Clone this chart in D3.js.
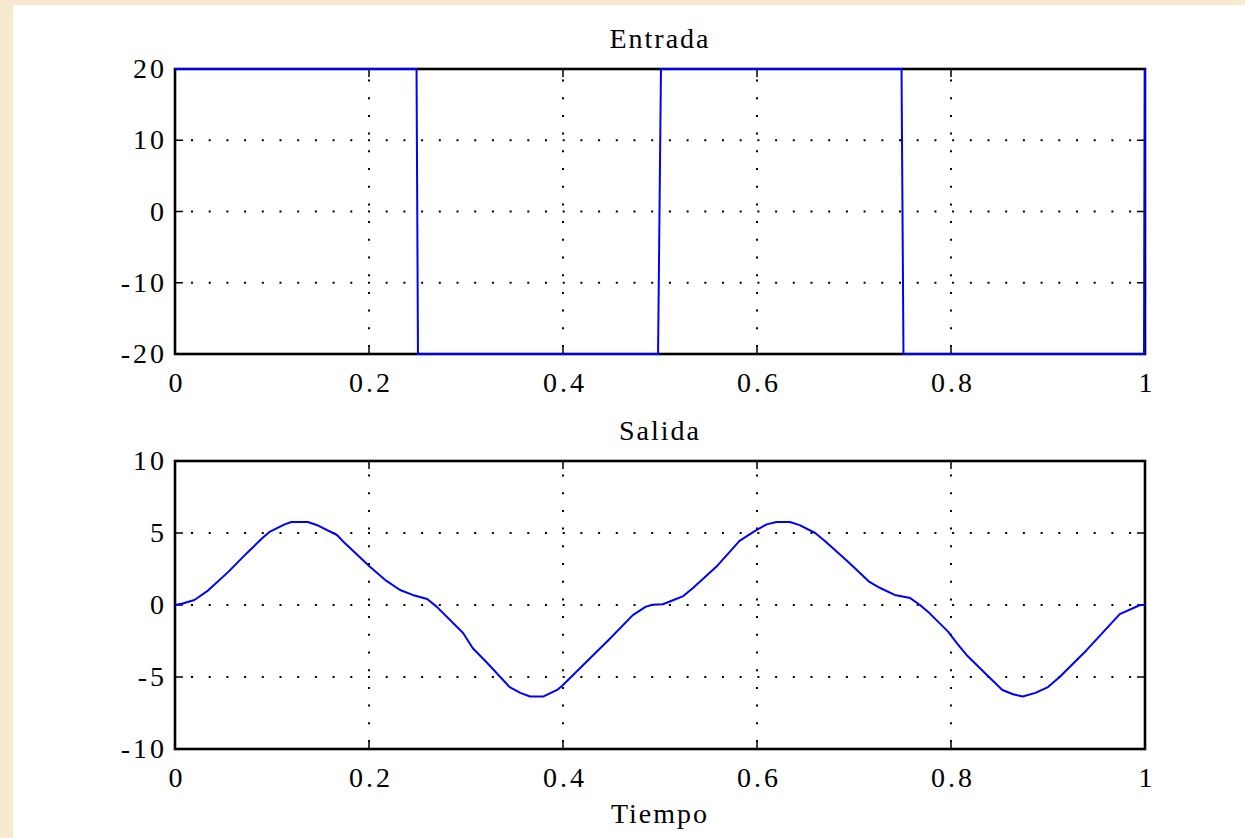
<!DOCTYPE html>
<html>
<head>
<meta charset="utf-8">
<title>Entrada / Salida</title>
<style>
html, body {
  margin: 0;
  padding: 0;
  background: #f8ead1;
}
svg {
  display: block;
}
</style>
</head>
<body>
<svg id="chart" width="1245" height="838" font-family="'Liberation Serif', 'Times New Roman', Times, 'DejaVu Serif', serif" font-size="28"></svg>
<script src="https://d3js.org/d3.v7.min.js"></script>
<script>

// input: square wave (time, value)
var entradaT = [0, 0.249, 0.2505, 0.498, 0.501, 0.749, 0.751, 0.999, 1];
var entradaV = [20, 20, -20, -20, 20, 20, -20, -20, 20];

// output (time, value)
var salidaT = [0, 0.008, 0.02, 0.034, 0.055, 0.074, 0.091, 0.098, 0.113, 0.12, 0.137, 0.146,
  0.167, 0.175, 0.201, 0.218, 0.232, 0.245, 0.26, 0.27, 0.297, 0.307, 0.321, 0.345, 0.356,
  0.366, 0.38, 0.394, 0.4, 0.424, 0.447, 0.472, 0.485, 0.492, 0.503, 0.514, 0.524, 0.534,
  0.558, 0.582, 0.598, 0.61, 0.62, 0.634, 0.644, 0.66, 0.67, 0.693, 0.716, 0.727, 0.742,
  0.758, 0.768, 0.778, 0.797, 0.806, 0.816, 0.837, 0.853, 0.864, 0.874, 0.887, 0.9, 0.912,
  0.94, 0.974, 0.995, 1];
var salidaV = [0, 0.1, 0.35, 1.0, 2.3, 3.6, 4.7, 5.1, 5.6, 5.76, 5.76, 5.56,
  4.86, 4.3, 2.65, 1.67, 1.04, 0.7, 0.42, -0.13, -1.94, -3.0, -3.96, -5.7, -6.1,
  -6.35, -6.35, -5.9, -5.55, -3.96, -2.43, -0.7, -0.13, 0.02, 0.05, 0.35, 0.62, 1.18,
  2.65, 4.45, 5.15, 5.6, 5.76, 5.76, 5.55, 5.0, 4.45, 3.06, 1.6, 1.18, 0.7,
  0.48, 0, -0.58, -1.85, -2.65, -3.47, -4.86, -5.9, -6.2, -6.35, -6.1, -5.7, -5.0,
  -3.12, -0.63, 0, 0];

var xTicks = [0, 0.2, 0.4, 0.6, 0.8, 1];
var xTickLabels = ["0", "0.2", "0.4", "0.6", "0.8", "1"];
var yTicksTop = [-20, -10, 0, 10, 20];
var yTicksBottom = [-10, -5, 0, 5, 10];

var svg = d3.select("#chart");

// white page area over the parchment background
svg.append("rect")
  .attr("x", 13).attr("y", 5)
  .attr("width", 1245 - 13).attr("height", 838 - 5)
  .attr("fill", "#fff");

var left = 175, right = 1145;

var panels = [
  {title: "Entrada", top: 69, bottom: 354, domain: [-20, 20], yTicks: yTicksTop, t: entradaT, v: entradaV},
  {title: "Salida", top: 461, bottom: 749, domain: [-10, 10], yTicks: yTicksBottom, t: salidaT, v: salidaV}
];

var x = d3.scaleLinear().domain([0, 1]).range([left, right]);

panels.forEach(function(p) {
  var y = d3.scaleLinear().domain(p.domain).range([p.bottom, p.top]);
  var g = svg.append("g");

  // dotted grid
  g.selectAll(".gx")
    .data(xTicks.slice(1, -1))
    .enter().append("line")
    .attr("x1", function(d) { return x(d); })
    .attr("x2", function(d) { return x(d); })
    .attr("y1", p.bottom).attr("y2", p.top)
    .attr("stroke", "#000").attr("stroke-width", 2)
    .attr("stroke-dasharray", "2,15.7")
    .attr("stroke-dashoffset", -7);

  g.selectAll(".gy")
    .data(p.yTicks.slice(1, -1))
    .enter().append("line")
    .attr("x1", left).attr("x2", right)
    .attr("y1", function(d) { return y(d); })
    .attr("y2", function(d) { return y(d); })
    .attr("stroke", "#000").attr("stroke-width", 2)
    .attr("stroke-dasharray", "2,15.7")
    .attr("stroke-dashoffset", -16);

  // inward ticks
  var tickLen = 8;
  g.selectAll(".tx")
    .data(xTicks)
    .enter().append("path")
    .attr("d", function(d) {
      return "M" + x(d) + "," + p.bottom + "v" + (-tickLen) +
             "M" + x(d) + "," + p.top + "v" + tickLen;
    })
    .attr("stroke", "#000").attr("stroke-width", 1.5);

  g.selectAll(".ty")
    .data(p.yTicks)
    .enter().append("path")
    .attr("d", function(d) {
      return "M" + left + "," + y(d) + "h" + tickLen +
             "M" + right + "," + y(d) + "h" + (-tickLen);
    })
    .attr("stroke", "#000").attr("stroke-width", 1.5);

  // box
  g.append("rect")
    .attr("x", left).attr("y", p.top)
    .attr("width", right - left).attr("height", p.bottom - p.top)
    .attr("fill", "none")
    .attr("stroke", "#000").attr("stroke-width", 2.6);

  // curve
  var pts = p.t.map(function(t, i) { return [t, p.v[i]]; });
  g.append("path")
    .datum(pts)
    .attr("fill", "none")
    .attr("stroke", "#0000ff")
    .attr("stroke-width", 2)
    .attr("stroke-linejoin", "round")
    .attr("d", d3.line()
      .x(function(d) { return x(d[0]); })
      .y(function(d) { return y(d[1]); }));

  // tick labels
  g.selectAll(".lx")
    .data(xTicks)
    .enter().append("text")
    .attr("x", function(d) { return x(d) + 2; })
    .attr("y", p.bottom + 38)
    .attr("text-anchor", "middle")
    .attr("letter-spacing", 3)
    .text(function(d, i) { return xTickLabels[i]; });

  g.selectAll(".ly")
    .data(p.yTicks)
    .enter().append("text")
    .attr("x", left - 8)
    .attr("y", function(d) { return y(d) + 9; })
    .attr("text-anchor", "end")
    .attr("letter-spacing", 3)
    .text(function(d) { return d; });

  // title
  g.append("text")
    .attr("x", (left + right) / 2)
    .attr("y", p.top - 21)
    .attr("text-anchor", "middle")
    .attr("letter-spacing", 2)
    .text(p.title);
});

svg.append("text")
  .attr("x", (left + right) / 2)
  .attr("y", 823)
  .attr("text-anchor", "middle")
  .attr("letter-spacing", 2)
  .text("Tiempo");

</script>
</body>
</html>
